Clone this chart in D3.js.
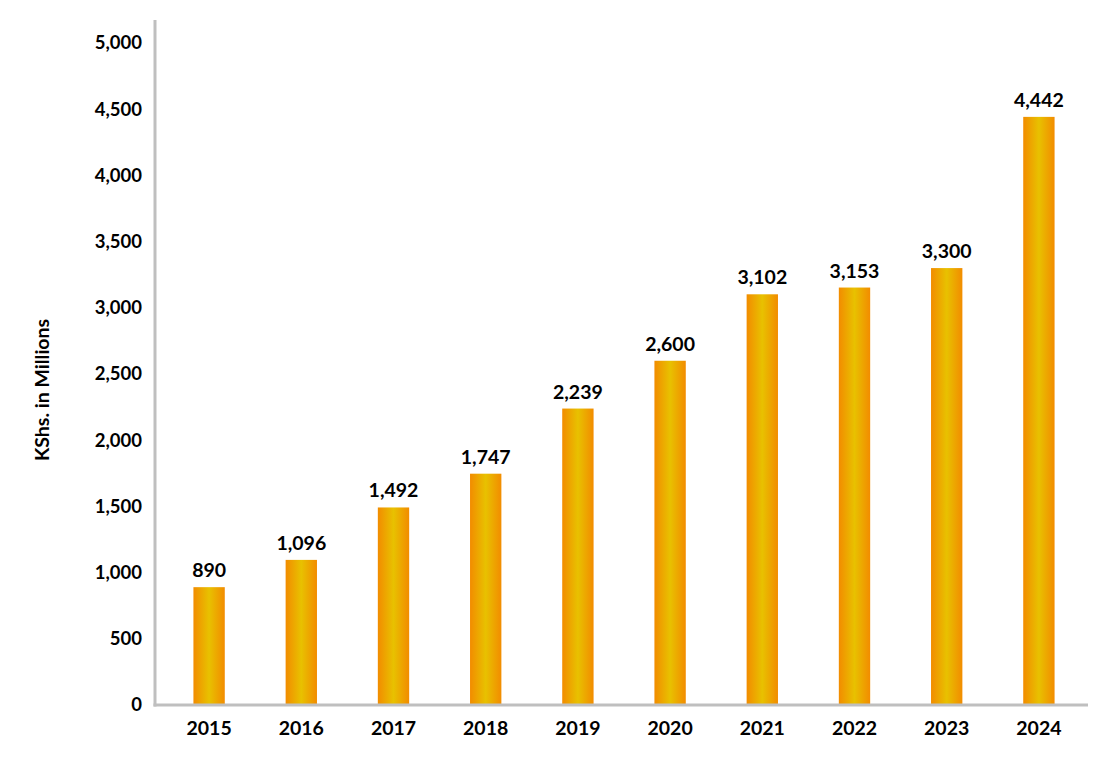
<!DOCTYPE html>
<html>
<head>
<meta charset="utf-8">
<script src="https://cdn.jsdelivr.net/npm/d3@7"></script>
<style>
  body { margin: 0; background: #fff; }
  svg text { font-family: Lato, "Open Sans", sans-serif; font-weight: bold; fill: #000; }
</style>
</head>
<body>
<svg width="1096" height="757"></svg>
<script>
const years = ['2015', '2016', '2017', '2018', '2019', '2020', '2021', '2022', '2023', '2024'];
const values = [890, 1096, 1492, 1747, 2239, 2600, 3102, 3153, 3300, 4442];
const yTicks = [0, 500, 1000, 1500, 2000, 2500, 3000, 3500, 4000, 4500, 5000];

const svg = d3.select('svg');
const axisColor = '#bfbfbf';
const x0 = 155;
const yBase = 705;

const x = d3.scaleBand()
  .domain(years)
  .range([163, 1085])
  .paddingInner(0.66)
  .paddingOuter(0.33);

const y = d3.scaleLinear()
  .domain([0, 5000])
  .range([yBase, 43]);

// gradient for the bars: orange at the edges, yellow in the middle
const grad = svg.append('defs').append('linearGradient')
  .attr('id', 'barGrad')
  .attr('x1', '0%').attr('x2', '100%')
  .attr('y1', '0%').attr('y2', '0%');
grad.append('stop').attr('offset', '0%').attr('stop-color', '#f28c00');
grad.append('stop').attr('offset', '50%').attr('stop-color', '#e8c100');
grad.append('stop').attr('offset', '100%').attr('stop-color', '#f28c00');

// y tick labels
svg.selectAll('.ytick')
  .data(yTicks)
  .enter()
  .append('text')
  .attr('class', 'ytick')
  .attr('x', 142)
  .attr('y', d => y(d))
  .attr('dy', '0.35em')
  .attr('text-anchor', 'end')
  .attr('font-size', 18.5)
  .text(d => d3.format(',')(d));

// bars
svg.selectAll('.bar')
  .data(values)
  .enter()
  .append('rect')
  .attr('class', 'bar')
  .attr('x', (d, i) => x(years[i]))
  .attr('width', x.bandwidth())
  .attr('y', d => y(d))
  .attr('height', d => yBase - y(d))
  .attr('fill', 'url(#barGrad)');

// value labels
svg.selectAll('.val')
  .data(values)
  .enter()
  .append('text')
  .attr('class', 'val')
  .attr('x', (d, i) => x(years[i]) + x.bandwidth() / 2)
  .attr('y', d => y(d) - 10)
  .attr('text-anchor', 'middle')
  .attr('font-size', 19.5)
  .text(d => d3.format(',')(d));

// x labels
svg.selectAll('.xlab')
  .data(years)
  .enter()
  .append('text')
  .attr('class', 'xlab')
  .attr('x', d => x(d) + x.bandwidth() / 2)
  .attr('y', 735)
  .attr('text-anchor', 'middle')
  .attr('font-size', 19.5)
  .text(d => d);

// axis lines
svg.append('line')
  .attr('x1', x0).attr('x2', x0)
  .attr('y1', 20).attr('y2', yBase + 1.5)
  .attr('stroke', axisColor).attr('stroke-width', 3);
svg.append('line')
  .attr('x1', x0 - 1.5).attr('x2', 1088)
  .attr('y1', yBase).attr('y2', yBase)
  .attr('stroke', axisColor).attr('stroke-width', 3);

// y axis title
svg.append('text')
  .attr('transform', 'translate(49,390) rotate(-90)')
  .attr('text-anchor', 'middle')
  .attr('font-size', 19.5)
  .text('KShs. in Millions');
</script>
</body>
</html>
